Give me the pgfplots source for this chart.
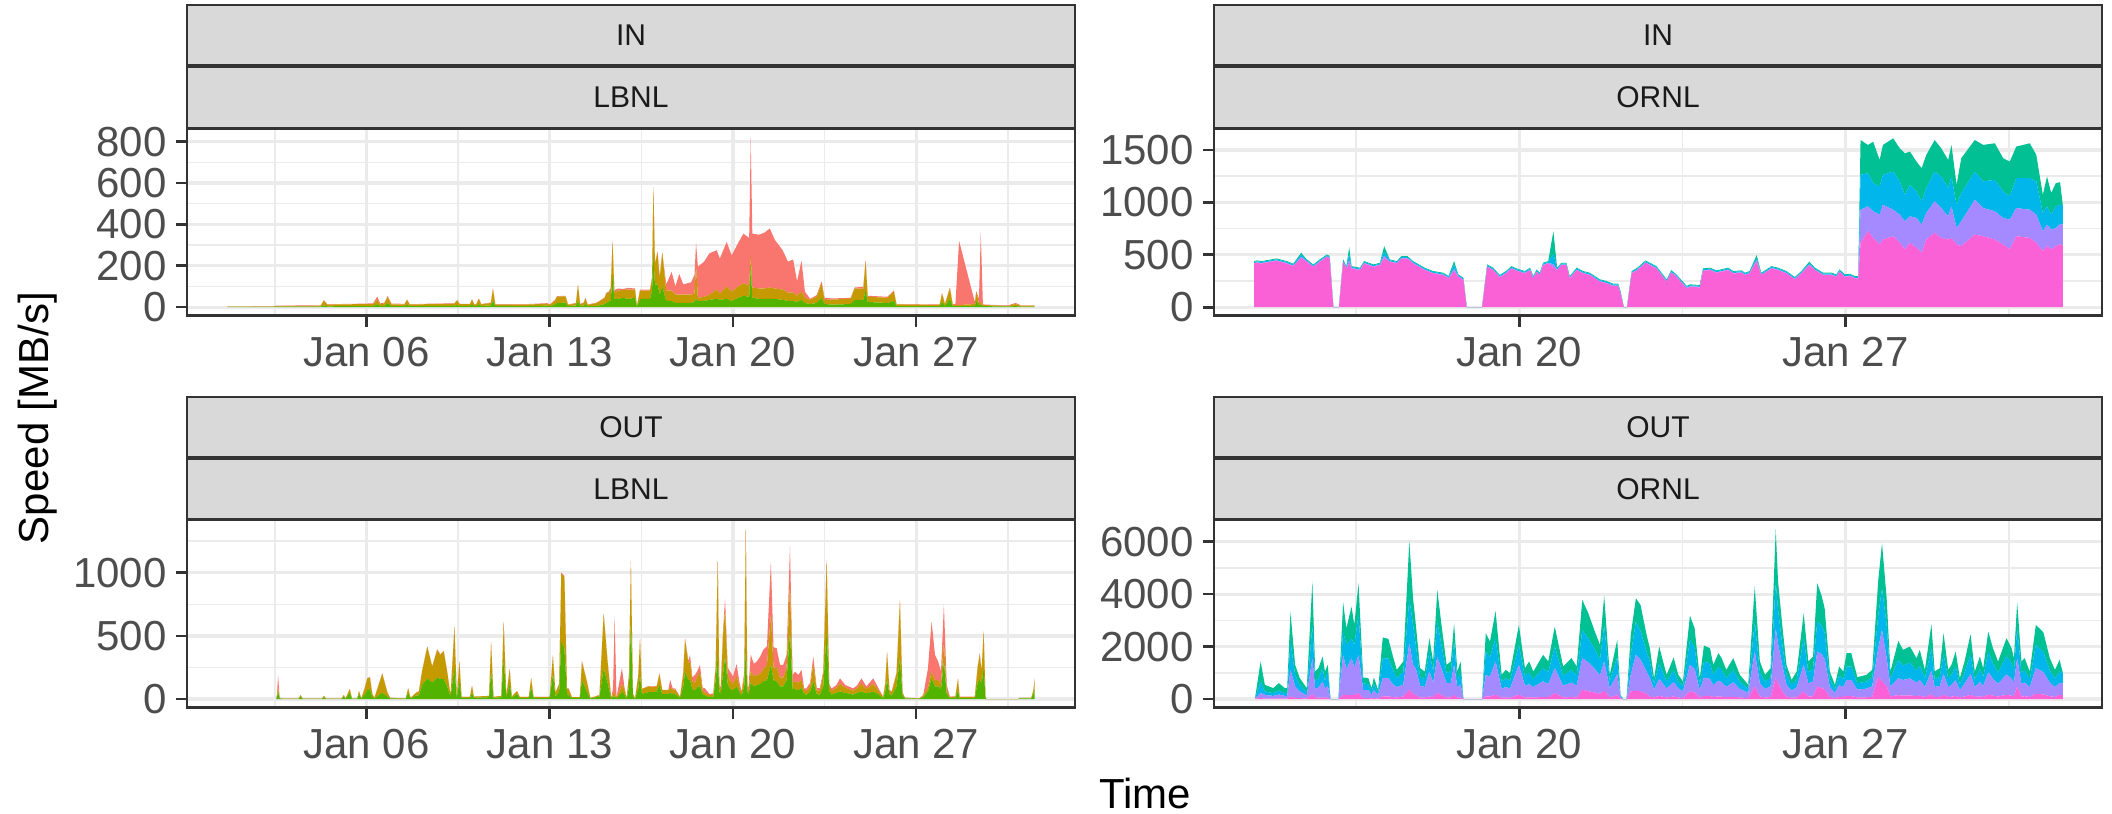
\documentclass[border=0pt]{standalone}
\usepackage{fontspec}
\setmainfont{Liberation Sans}
\usepackage{pgfplots}
\usepackage{pgfplotstable}
\pgfplotsset{compat=1.18}

\definecolor{cR}{HTML}{F8766D}
\definecolor{cO}{HTML}{C49A00}
\definecolor{cG}{HTML}{53B400}
\definecolor{cT}{HTML}{00C094}
\definecolor{cC}{HTML}{00B6EB}
\definecolor{cL}{HTML}{A58AFF}
\definecolor{cP}{HTML}{FB61D7}
\definecolor{gridc}{HTML}{EBEBEB}
\definecolor{framec}{HTML}{333333}
\definecolor{ticklab}{HTML}{4D4D4D}
\definecolor{stripbg}{HTML}{D9D9D9}
\definecolor{striptx}{HTML}{1A1A1A}

% LBNL, IN: green / gold / red (bottom to top), x = day of January
\pgfplotstableread{
x g o r
0.68 1 1 0
2.45 1 2 1
2.55 2 3 2
4.25 3 4 2
4.37 8 24 2
4.5 4 8 2
5.5 5 9 2
6.25 5 10 3
6.41 14 22 15
6.52 5 8 5
6.68 7 11 3
6.81 18 30 6
6.95 5 8 4
7.45 5 8 3
7.55 12 22 3
7.65 5 7 2
8.5 6 9 2
9.35 6 10 2
9.46 10 22 2
9.56 6 8 2
9.95 6 8 2
10.03 12 24 2
10.12 5 7 2
10.2 6 8 2
10.29 14 26 2
10.38 6 7 2
10.75 8 12 2
10.83 30 58 2
10.92 6 6 2
12.0 5 7 2
12.9 7 9 3
13.0 5 6 2
13.2 12 20 3
13.28 20 30 3
13.6 22 30 3
13.7 5 6 2
14.0 8 10 2
14.08 30 77 2
14.16 6 8 2
14.3 8 12 2
14.36 15 28 2
14.45 5 6 2
14.8 6 14 2
15.1 15 30 2
15.16 20 47 2
15.25 28 40 6
15.33 30 60 4
15.40 150 165 2
15.47 40 30 12
15.6 40 40 10
15.8 45 38 5
16.0 40 45 8
16.26 45 40 5
16.33 2 3 0
16.45 40 40 5
16.83 40 40 5
16.91 80 60 5
16.96 250 330 0
17.02 110 100 5
17.12 110 150 10
17.2 60 80 10
17.3 100 160 5
17.45 30 50 30
17.66 30 50 90
17.8 20 40 40
17.95 20 40 100
18.1 20 40 50
18.4 20 40 60
18.53 25 40 90
18.59 40 160 110
18.66 30 15 150
18.9 30 20 170
19.1 35 25 200
19.38 40 45 190
19.5 35 30 170
19.76 40 60 215
19.95 30 45 175
20.2 45 55 210
20.40 55 60 240
20.62 50 55 230
20.68 200 50 566
20.74 45 50 260
21.0 40 50 260
21.2 40 50 270
21.41 40 55 285
21.6 40 50 235
21.9 35 50 190
22.1 30 40 150
22.3 30 40 160
22.45 25 30 70
22.62 35 40 150
22.75 20 25 30
22.95 15 20 5
23.2 20 30 8
23.39 45 70 10
23.5 15 20 10
23.8 12 25 5
24.5 15 25 5
24.65 35 55 5
24.98 35 55 8
25.07 80 140 10
25.15 25 25 5
25.9 20 25 5
26.15 30 45 5
26.25 5 8 2
27.9 5 6 2
27.99 25 40 4
28.1 6 8 2
28.29 40 50 6
28.4 5 6 2
28.50 5 5 5
28.64 5 5 310
29.24 5 10 10
29.3 30 40 7
29.40 10 10 20
29.47 10 10 340
29.55 5 5 3
30.5 3 3 2
30.8 5 10 5
31.0 3 4 2
31.53 3 4 2
}\lbnlin

% LBNL, OUT
\pgfplotstableread{
x g o r
2.55 0 0 0
2.58 20 10 10
2.62 58 30 103
2.68 5 3 2
2.8 2 1 0
3.4 2 1 0
3.48 20 10 2
3.56 2 1 0
4.3 2 1 0
4.37 15 10 2
4.45 2 1 0
5.05 2 1 0
5.13 20 12 0
5.2 3 2 0
5.36 50 30 0
5.44 3 2 0
5.65 3 2 0
5.71 40 24 0
5.8 3 2 0
5.95 40 60 2
6.03 72 92 2
6.13 80 92 2
6.22 20 20 2
6.3 5 5 0
6.6 50 150 4
6.8 20 30 2
6.9 5 5 0
7.5 3 3 0
7.59 50 35 0
7.68 5 5 0
7.91 30 23 0
8.0 30 30 2
8.12 111 107 3
8.32 164 250 3
8.51 130 127 3
8.7 170 220 5
8.82 160 190 5
8.95 160 217 5
9.08 100 118 3
9.21 20 12 0
9.36 250 318 5
9.45 10 8 0
9.55 150 147 3
9.63 10 8 0
9.95 10 8 0
10.03 50 56 0
10.1 10 10 0
10.68 15 10 0
10.76 217 234 3
10.85 10 8 0
11.15 15 10 0
11.24 324 286 3
11.34 15 10 0
11.47 120 116 3
11.55 10 10 0
11.75 40 24 0
11.85 10 8 0
12.2 10 8 0
12.29 90 74 3
12.38 10 8 0
13.0 10 8 0
13.12 200 145 3
13.22 20 30 0
13.36 60 60 3
13.44 456 536 10
13.56 400 566 10
13.66 40 45 0
13.72 30 50 5
13.85 10 5 0
14.15 10 5 0
14.23 150 147 3
14.42 60 78 3
14.55 5 5 0
14.9 20 10 3
15.06 244 430 5
15.21 130 167 5
15.35 3 3 0
15.42 20 20 50
15.48 20 30 605
15.55 5 5 3
15.7 40 40 100
15.76 60 60 124
15.85 40 40 20
15.94 3 2 0
16.03 100 100 5
16.1 615 478 0
16.18 20 20 0
16.26 3 2 0
16.38 80 100 5
16.45 190 285 3
16.52 40 40 3
16.58 45 40 0
16.77 55 45 3
16.95 55 40 5
17.09 60 40 5
17.19 110 90 4
17.3 40 30 2
17.53 40 30 2
17.6 50 40 61
17.7 40 35 10
17.79 40 35 10
17.98 10 7 2
18.1 100 100 10
18.17 217 256 10
18.3 150 130 20
18.36 150 150 50
18.45 80 60 30
18.55 70 60 61
18.66 100 90 40
18.74 100 110 61
18.84 40 30 20
18.93 30 20 35
19.1 15 15 10
19.25 20 15 10
19.34 150 100 20
19.42 350 743 0
19.48 60 40 20
19.53 40 20 25
19.62 200 300 40
19.7 337 371 88
19.8 120 80 50
19.89 80 70 68
20.0 70 50 60
20.14 100 80 96
20.25 60 40 30
20.33 25 20 15
20.43 100 80 30
20.49 403 942 0
20.55 60 40 10
20.59 35 25 25
20.68 130 90 130
20.8 100 80 100
20.91 110 80 107
21.05 120 80 140
21.16 140 100 150
21.3 150 120 150
21.45 271 398 419
21.55 150 100 160
21.67 140 113 150
21.8 100 70 100
21.92 100 71 100
22.05 150 100 100
22.18 536 376 300
22.28 80 50 60
22.37 80 60 78
22.5 70 60 60
22.62 90 61 80
22.72 40 25 20
22.81 35 30 20
22.95 60 40 30
23.07 140 137 60
23.2 40 30 20
23.32 35 30 20
23.45 100 100 20
23.58 536 550 20
23.68 60 40 15
23.77 35 30 20
23.95 50 40 20
24.09 60 60 44
24.3 50 40 20
24.6 35 30 20
24.75 50 40 20
24.91 60 60 44
25.1 45 35 20
25.36 60 60 44
25.55 40 30 20
25.74 8 8 3
25.82 60 60 10
25.89 150 217 10
25.98 40 30 5
26.06 25 25 8
26.25 100 100 10
26.38 324 454 10
26.48 30 20 5
26.57 5 4 2
27.14 4 3 1
27.27 15 12 5
27.45 60 30 150
27.59 165 50 400
27.72 100 50 200
27.84 100 50 147
27.95 80 40 100
28.06 297 151 300
28.17 40 20 50
28.29 8 8 3
28.5 10 10 3
28.6 70 90 4
28.66 8 8 3
29.24 8 8 3
29.35 130 120 10
29.43 160 190 13
29.5 120 100 5
29.58 244 292 0
29.65 10 10 0
29.68 0 0 0
30.9 0 0 0
30.95 5 4 1
31.4 5 4 1
31.48 40 30 0
31.53 80 84 0
}\lbnlout

% ORNL, IN: pink / lavender / cyan / teal (bottom to top)
\pgfplotstableread{
x p l c t
14.31 417 5 10 8
14.37 423 5 10 8
14.47 417 5 10 8
14.79 442 5 10 8
15.01 417 5 10 8
15.15 392 5 10 8
15.32 470 10 20 19
15.44 433 5 10 8
15.58 385 5 10 8
15.72 433 5 10 8
15.87 480 5 10 8
15.93 467 5 10 8
16.01 0 0 0 0
16.13 0 0 0 0
16.22 433 5 10 8
16.29 369 5 10 8
16.35 420 30 60 63
16.40 369 5 10 8
16.58 354 5 10 8
16.67 417 5 10 8
16.87 385 5 10 8
17.01 401 5 10 8
17.10 470 20 40 52
17.22 433 5 10 8
17.37 417 5 10 8
17.47 464 5 10 8
17.60 464 5 10 8
17.72 417 5 10 8
17.97 354 5 10 8
18.15 322 5 10 8
18.37 306 5 10 8
18.48 274 5 10 8
18.60 345 20 40 35
18.69 290 5 10 8
18.80 259 5 10 8
18.87 0 0 0 0
19.20 0 0 0 0
19.31 385 5 10 8
19.44 354 5 10 8
19.58 284 5 10 8
19.73 328 5 10 8
19.83 369 5 10 8
19.94 347 5 10 8
20.12 322 5 10 8
20.23 354 5 10 8
20.30 274 5 10 8
20.37 337 5 10 8
20.44 307 5 10 8
20.51 401 5 10 8
20.62 417 5 10 8
20.73 380 30 100 215
20.81 354 5 10 8
20.90 401 5 10 8
21.01 401 5 10 8
21.08 274 5 10 8
21.23 354 5 10 8
21.37 322 5 10 8
21.51 306 5 10 8
21.73 243 5 10 8
21.87 227 5 10 8
22.01 202 5 10 8
22.12 202 5 10 8
22.17 132 5 10 8
22.24 0 0 0 0
22.31 0 0 0 0
22.41 322 5 10 8
22.53 354 5 10 8
22.71 423 5 10 8
22.80 401 5 10 8
22.94 369 5 10 8
23.16 243 5 10 8
23.26 331 5 10 8
23.37 290 5 10 8
23.59 180 5 10 8
23.66 195 5 10 8
23.87 189 5 10 8
23.94 347 5 10 8
24.09 354 5 10 8
24.23 328 5 10 8
24.48 354 5 10 8
24.59 322 5 10 8
24.77 328 5 10 8
24.84 306 5 10 8
24.94 322 5 10 8
25.09 440 10 20 27
25.19 306 5 10 8
25.41 369 5 10 8
25.55 354 5 10 8
25.73 322 5 10 8
25.91 265 5 10 8
26.05 322 5 10 8
26.22 400 8 12 14
26.34 354 5 10 8
26.52 306 5 10 8
26.70 306 5 10 8
26.80 290 5 10 8
26.87 338 5 10 8
26.98 290 5 10 8
27.09 296 5 10 8
27.20 274 5 10 8
27.27 274 5 10 8
27.32 614 316 333 332
27.48 725 237 317 269
27.59 661 254 269 395
27.73 598 285 269 253
27.80 646 332 285 285
28.02 677 253 364 317
28.16 614 269 317 316
28.27 551 269 253 396
28.38 614 253 301 316
28.52 567 284 254 284
28.63 519 269 222 316
28.73 646 253 237 317
28.91 709 301 284 301
29.05 661 285 301 269
29.20 646 221 269 269
29.27 661 301 285 301
29.38 598 158 222 190
29.48 583 237 269 332
29.77 693 332 269 301
29.95 677 269 254 348
30.20 646 269 300 349
30.38 598 253 254 316
30.52 551 284 222 332
30.66 677 269 285 301
30.95 661 269 301 333
31.09 614 269 317 253
31.23 535 190 174 174
31.32 583 205 174 285
31.41 551 190 142 206
31.51 583 173 206 222
31.60 598 196 184 215
31.66 590 200 180 0
}\ornlin

% ORNL, OUT
\pgfplotstableread{
x p l c t
14.33 20 10 5 5
14.45 38 190 444 761
14.54 20 145 127 253
14.72 20 100 108 190
14.84 25 150 150 284
14.97 20 100 108 190
15.02 20 100 110 200
15.09 101 1015 1078 1116
15.19 50 432 444 380
15.29 40 250 255 254
15.44 20 120 110 168
15.56 190 1370 1268 1648
15.62 50 350 300 352
15.69 55 380 350 394
15.78 60 612 507 444
15.83 50 350 300 352
15.89 55 450 547 254
15.95 0 0 0 0
16.12 0 0 0 0
16.22 165 1521 888 1116
16.29 150 1000 917 634
16.40 165 1395 760 1205
16.46 160 1050 850 768
16.55 228 1458 1522 1205
16.65 40 315 254 215
16.76 40 300 220 239
16.83 20 160 110 128
16.88 40 300 230 254
16.97 20 140 90 105
17.07 100 699 761 786
17.19 100 700 750 745
17.28 80 500 570 536
17.37 60 400 339 317
17.51 100 445 507 381
17.64 355 1775 1712 2181
17.72 200 1106 1522 1014
17.78 150 1000 900 778
17.87 60 450 350 319
17.97 60 400 300 290
18.07 100 952 761 507
18.15 70 550 450 363
18.24 228 1395 1331 1205
18.33 150 1000 900 778
18.44 60 549 380 317
18.53 70 550 450 363
18.60 165 1141 888 697
18.67 50 400 300 302
18.74 60 500 450 423
18.80 0 0 0 0
19.20 0 0 0 0
19.28 100 826 887 698
19.37 100 750 750 594
19.49 165 1268 887 1040
19.62 50 340 270 266
19.71 60 400 330 326
19.80 50 350 300 289
19.99 165 1141 761 761
20.12 60 450 350 319
20.21 70 500 450 413
20.30 60 400 300 292
20.51 80 600 500 506
20.62 70 500 450 413
20.76 228 951 824 761
20.94 60 450 380 353
21.12 80 550 480 450
21.23 60 450 380 353
21.35 355 1205 1077 1141
21.48 300 1100 900 971
21.62 250 900 750 674
21.73 200 700 600 567
21.82 330 1103 1395 1115
21.94 60 350 280 236
22.10 150 800 650 657
22.17 20 60 45 40
22.23 0 0 0 0
22.30 0 0 0 0
22.39 292 634 760 761
22.50 320 1366 1268 888
22.60 300 1200 1100 988
22.73 200 850 750 647
22.80 101 698 634 507
22.89 60 300 220 219
23.00 120 650 600 633
23.16 60 350 270 246
23.31 100 550 450 485
23.41 60 350 270 246
23.51 40 250 200 182
23.66 292 1014 951 926
23.76 250 900 800 751
23.87 50 300 230 219
23.96 120 700 600 622
24.09 120 650 600 570
24.16 80 450 400 376
24.27 100 600 520 530
24.34 90 550 470 450
24.44 70 400 330 316
24.59 90 550 470 450
24.73 60 330 270 266
24.91 40 200 150 155
25.05 482 1331 1141 1332
25.16 100 500 430 403
25.27 60 330 270 266
25.39 80 400 350 349
25.50 799 1902 1775 2004
25.55 600 1500 1300 1076
25.64 300 1000 800 728
25.73 100 450 400 356
25.84 50 270 220 195
25.95 70 380 300 302
26.10 292 1014 1014 951
26.20 100 500 430 403
26.30 110 560 480 473
26.39 482 1331 1141 1459
26.48 420 1300 1100 1149
26.55 380 1150 1000 932
26.66 80 380 300 292
26.77 40 200 150 155
26.86 90 440 370 343
26.95 80 380 300 290
27.02 120 600 520 510
27.12 120 600 520 510
27.25 60 300 240 237
27.45 70 330 270 256
27.57 90 400 330 296
27.70 862 1078 1268 1331
27.78 672 1965 1585 1712
27.88 500 1060 1268 1014
27.96 100 380 300 272
28.13 150 649 697 723
28.23 130 600 550 597
28.38 140 650 600 613
28.52 110 520 460 470
28.59 130 600 550 597
28.70 80 380 330 326
28.84 180 900 850 923
28.91 80 380 300 292
29.02 80 420 350 329
29.10 160 800 750 801
29.20 80 380 330 326
29.27 90 450 390 376
29.36 120 600 540 553
29.45 60 280 230 229
29.55 100 480 430 423
29.68 160 800 750 763
29.77 80 380 300 292
29.88 110 550 480 483
29.95 80 420 350 329
30.06 170 850 780 774
30.16 130 650 580 580
30.27 100 480 430 423
30.45 160 780 700 680
30.56 130 650 580 580
30.61 110 520 460 470
30.68 482 1078 1141 989
30.77 100 480 430 423
30.84 110 520 460 470
30.95 80 380 300 292
31.08 200 979 888 761
31.24 180 850 780 739
31.38 110 520 460 470
31.49 80 380 330 326
31.59 165 444 443 444
31.66 150 450 400 0
}\ornlout

\pgfplotsset{
  facet/.style={
    scale only axis, width=444pt, height=93.3pt, anchor=north west,
    axis line style={framec, line width=1.3pt},
    tick style={framec, line width=1.3pt},
    major tick length=5.5pt, minor tick length=0pt,
    tick align=outside, tick pos=left,
    grid=both,
    major grid style={gridc, line width=1.6pt},
    minor grid style={gridc, line width=0.8pt},
    ticklabel style={font=\fontsize{21}{21}\selectfont, text=ticklab, inner sep=0pt},
    xticklabel style={yshift=-5pt},
    yticklabel style={xshift=-4.5pt},
    stack plots=y,
  },
  lbnlx/.style={xmin=-0.86, xmax=33.07,
    xtick={6,13,20,27}, xticklabels={Jan 06,Jan 13,Jan 20,Jan 27},
    minor xtick={2.5,9.5,16.5,23.5,30.5}},
  ornlx/.style={xmin=13.45, xmax=32.5,
    xtick={20,27}, xticklabels={Jan 20,Jan 27},
    minor xtick={16.5,23.5,30.5}},
}
\tikzset{
  strip/.style={fill=stripbg, draw=framec, line width=1.3pt},
  striptext/.style={text=striptx, font=\fontsize{15}{15}\selectfont},
}

\begin{document}
\begin{tikzpicture}
\useasboundingbox (0,0) rectangle (1056pt,-406.5pt);

% top left: IN / LBNL
\begin{axis}[facet, lbnlx, at={(93.5pt,-64.5pt)},
  ymin=-41, ymax=861, ytick={0,200,400,600,800}, yticklabels={0,200,400,600,800},
  minor ytick={100,300,500,700}]
\addplot[fill=cG, draw=none] table[x=x, y=g] {\lbnlin} \closedcycle;
\addplot[fill=cO, draw=none] table[x=x, y=o] {\lbnlin} \closedcycle;
\addplot[fill=cR, draw=none] table[x=x, y=r] {\lbnlin} \closedcycle;
\end{axis}

% top right: IN / ORNL
\begin{axis}[facet, ornlx, at={(607pt,-64.5pt)},
  ymin=-80, ymax=1700, ytick={0,500,1000,1500}, yticklabels={0,500,1000,1500},
  minor ytick={250,750,1250}]
\addplot[fill=cP, draw=none] table[x=x, y=p] {\ornlin} \closedcycle;
\addplot[fill=cL, draw=none] table[x=x, y=l] {\ornlin} \closedcycle;
\addplot[fill=cC, draw=none] table[x=x, y=c] {\ornlin} \closedcycle;
\addplot[fill=cT, draw=none] table[x=x, y=t] {\ornlin} \closedcycle;
\end{axis}

% bottom left: OUT / LBNL
\begin{axis}[facet, lbnlx, at={(93.5pt,-260pt)}, height=93.8pt,
  ymin=-67.5, ymax=1417.5, ytick={0,500,1000}, yticklabels={0,500,1000},
  minor ytick={250,750,1250}]
\addplot[fill=cG, draw=none] table[x=x, y=g] {\lbnlout} \closedcycle;
\addplot[fill=cO, draw=none] table[x=x, y=o] {\lbnlout} \closedcycle;
\addplot[fill=cR, draw=none] table[x=x, y=r] {\lbnlout} \closedcycle;
\end{axis}

% bottom right: OUT / ORNL
\begin{axis}[facet, ornlx, at={(607pt,-260pt)}, height=93.8pt,
  ymin=-325, ymax=6825, ytick={0,2000,4000,6000}, yticklabels={0,2000,4000,6000},
  minor ytick={1000,3000,5000}]
\addplot[fill=cP, draw=none] table[x=x, y=p] {\ornlout} \closedcycle;
\addplot[fill=cL, draw=none] table[x=x, y=l] {\ornlout} \closedcycle;
\addplot[fill=cC, draw=none] table[x=x, y=c] {\ornlout} \closedcycle;
\addplot[fill=cT, draw=none] table[x=x, y=t] {\ornlout} \closedcycle;
\end{axis}

% facet strips
\foreach \xl/\lab in {93.5/LBNL, 607/ORNL} {
  \pgfmathsetmacro{\xr}{\xl+444}
  \draw[strip] (\xl pt,-2.5pt) rectangle (\xr pt,-32.6pt);
  \node[striptext] at ({(\xl+\xr)/2*1pt},-17.55pt) {IN};
  \draw[strip] (\xl pt,-33.3pt) rectangle (\xr pt,-64pt);
  \node[striptext] at ({(\xl+\xr)/2*1pt},-48.65pt) {\lab};
  \draw[strip] (\xl pt,-198.5pt) rectangle (\xr pt,-228.6pt);
  \node[striptext] at ({(\xl+\xr)/2*1pt},-213.55pt) {OUT};
  \draw[strip] (\xl pt,-229.3pt) rectangle (\xr pt,-259.5pt);
  \node[striptext] at ({(\xl+\xr)/2*1pt},-244.4pt) {\lab};
}

% axis titles
\node[rotate=90, font=\fontsize{21}{21}\selectfont] at (19pt,-209pt) {Speed [MB/s]};
\node[font=\fontsize{21}{21}\selectfont] at (572.5pt,-396.5pt) {Time};
\end{tikzpicture}
\end{document}
